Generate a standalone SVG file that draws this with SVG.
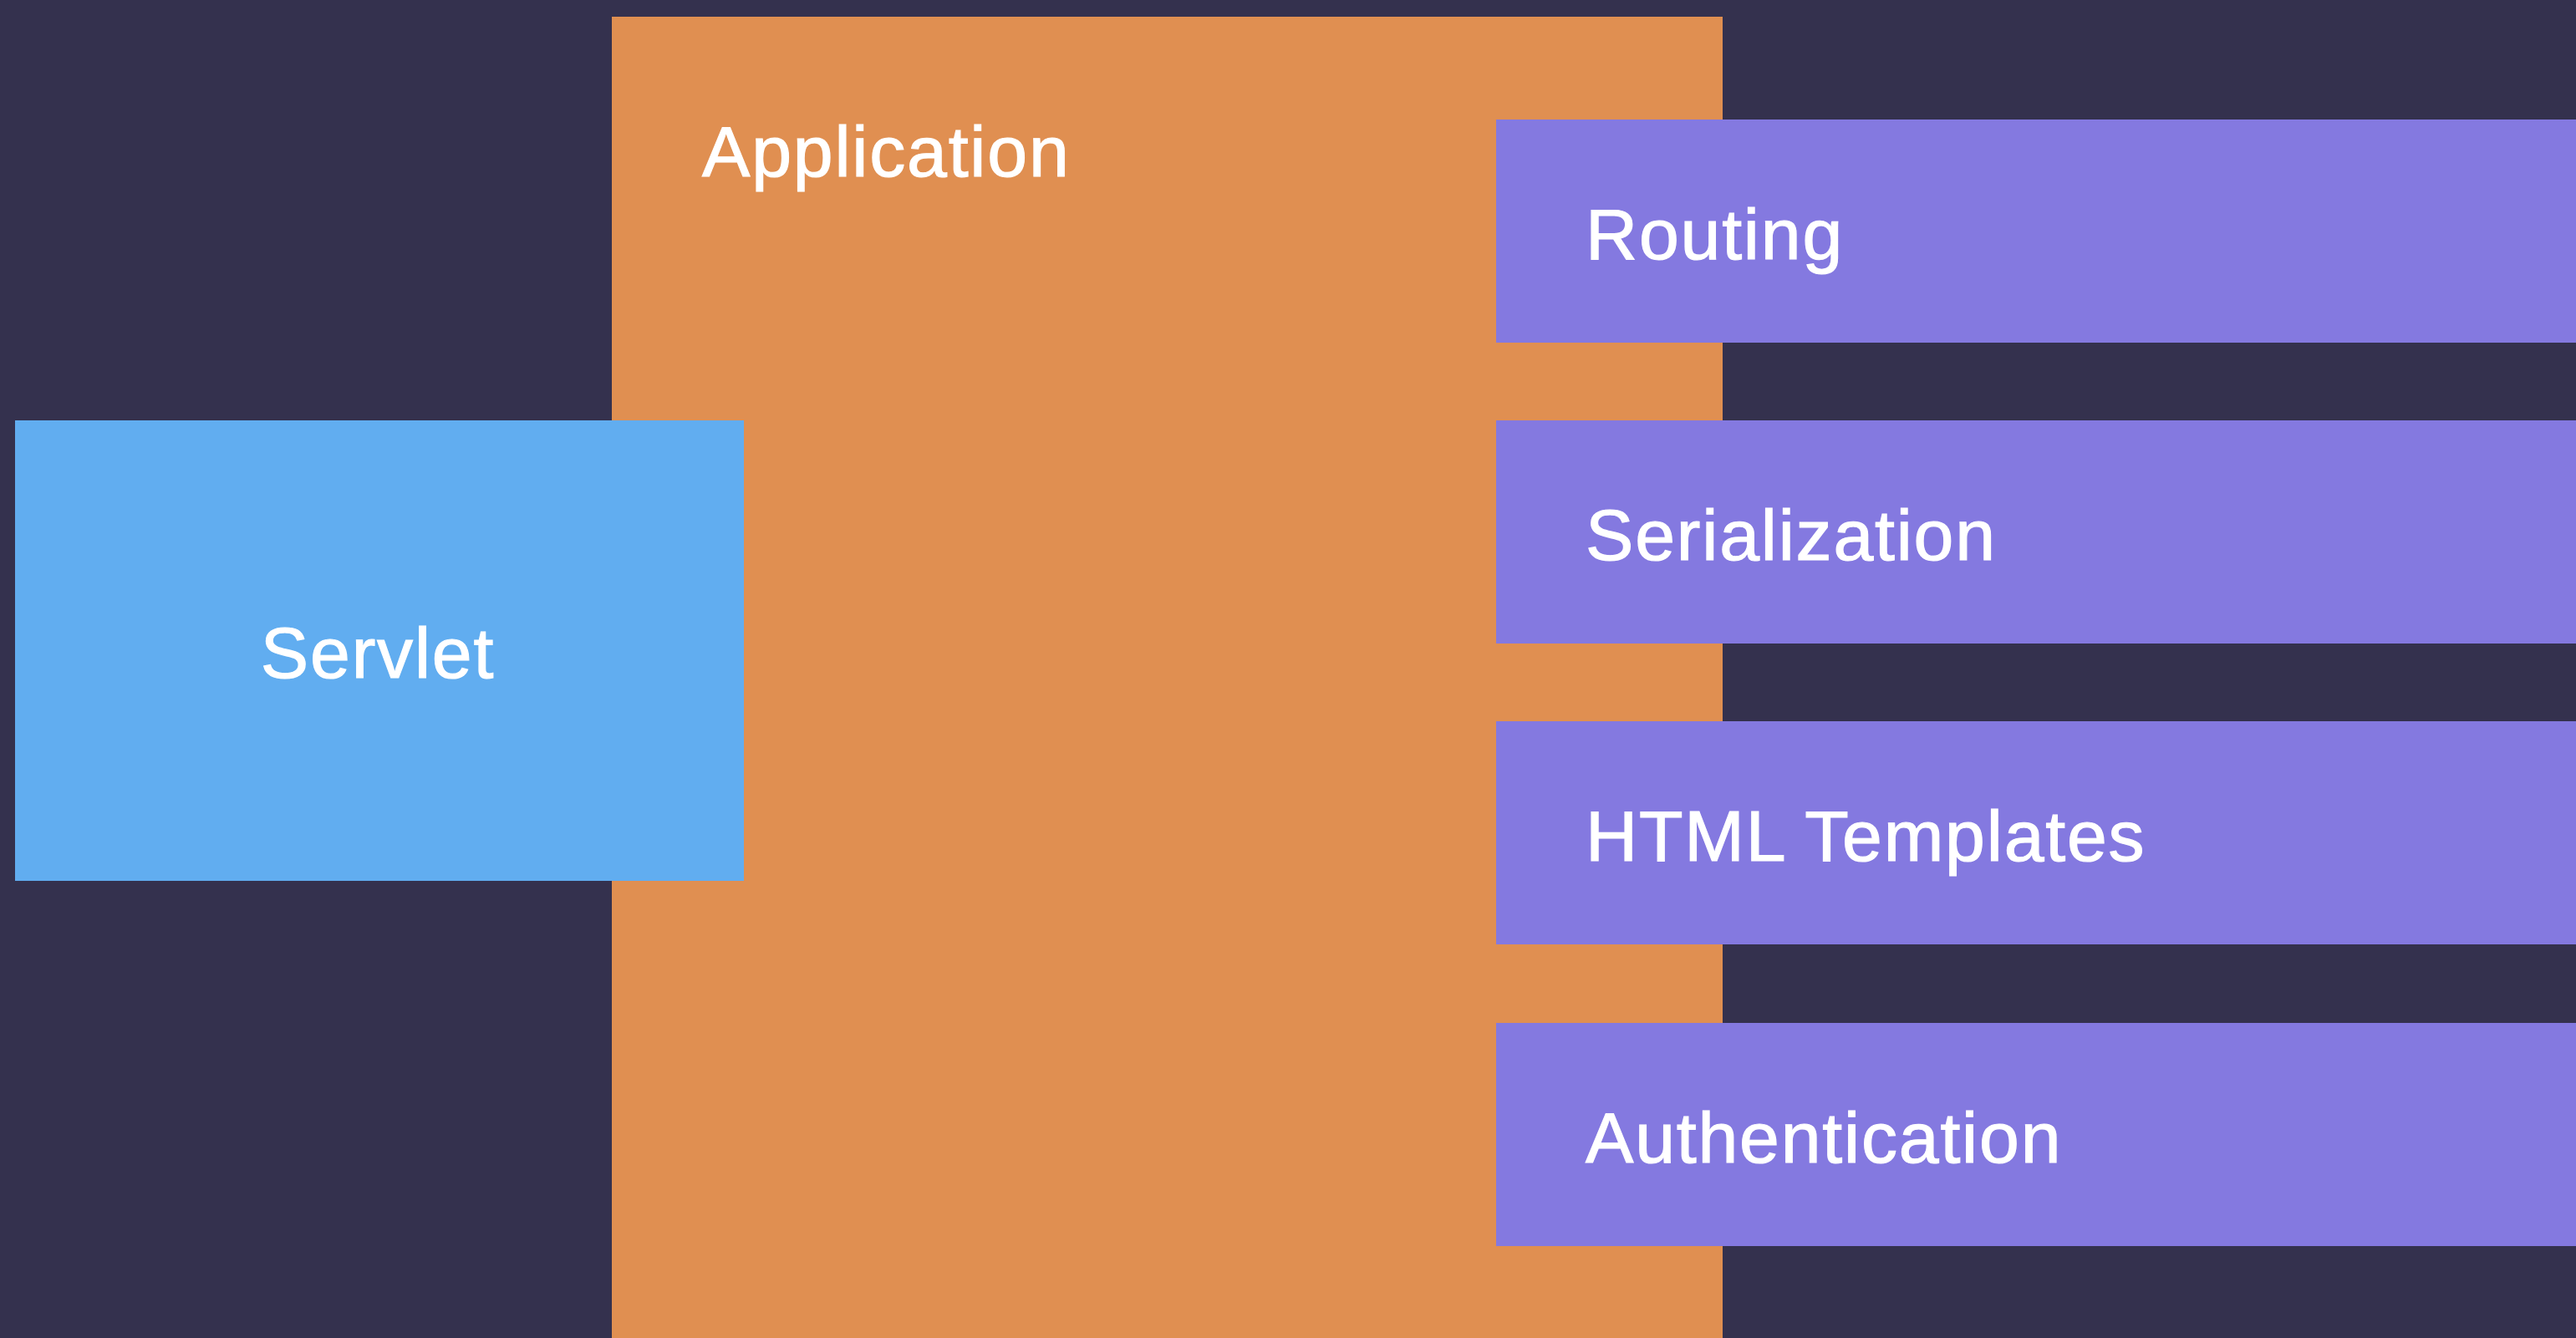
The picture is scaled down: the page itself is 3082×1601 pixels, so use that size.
<svg xmlns="http://www.w3.org/2000/svg" width="3082" height="1601" viewBox="0 0 3082 1601">
  <style>
    .label { font-family: "Liberation Sans", Arial, Helvetica, sans-serif; font-size: 86px; fill: #ffffff; stroke: #ffffff; stroke-width: 1.2px; letter-spacing: 1.8px; }
    .app { fill: #e08f51; }
    .servlet { fill: #61adf0; }
    .module { fill: #8479e0; }
  </style>
  <!-- background -->
  <rect x="0" y="0" width="3082" height="1601" fill="#34314e"/>

  <!-- application container -->
  <g id="application">
    <rect class="app" x="732" y="20" width="1329" height="1581"/>
    <text class="label" x="840" y="211">Application</text>
  </g>

  <!-- servlet host -->
  <g id="servlet">
    <rect class="servlet" x="18" y="503" width="872" height="551"/>
    <text class="label" x="452" y="811" text-anchor="middle">Servlet</text>
  </g>

  <!-- feature modules -->
  <g id="routing">
    <rect class="module" x="1790" y="143" width="1292" height="267"/>
    <text class="label" x="1897" y="310">Routing</text>
  </g>
  <g id="serialization">
    <rect class="module" x="1790" y="503" width="1292" height="267"/>
    <text class="label" x="1897" y="670">Serialization</text>
  </g>
  <g id="html-templates">
    <rect class="module" x="1790" y="863" width="1292" height="267"/>
    <text class="label" x="1897" y="1030">HTML Templates</text>
  </g>
  <g id="authentication">
    <rect class="module" x="1790" y="1224" width="1292" height="267"/>
    <text class="label" x="1897" y="1391">Authentication</text>
  </g>

  <g id="connectors"/>
</svg>
